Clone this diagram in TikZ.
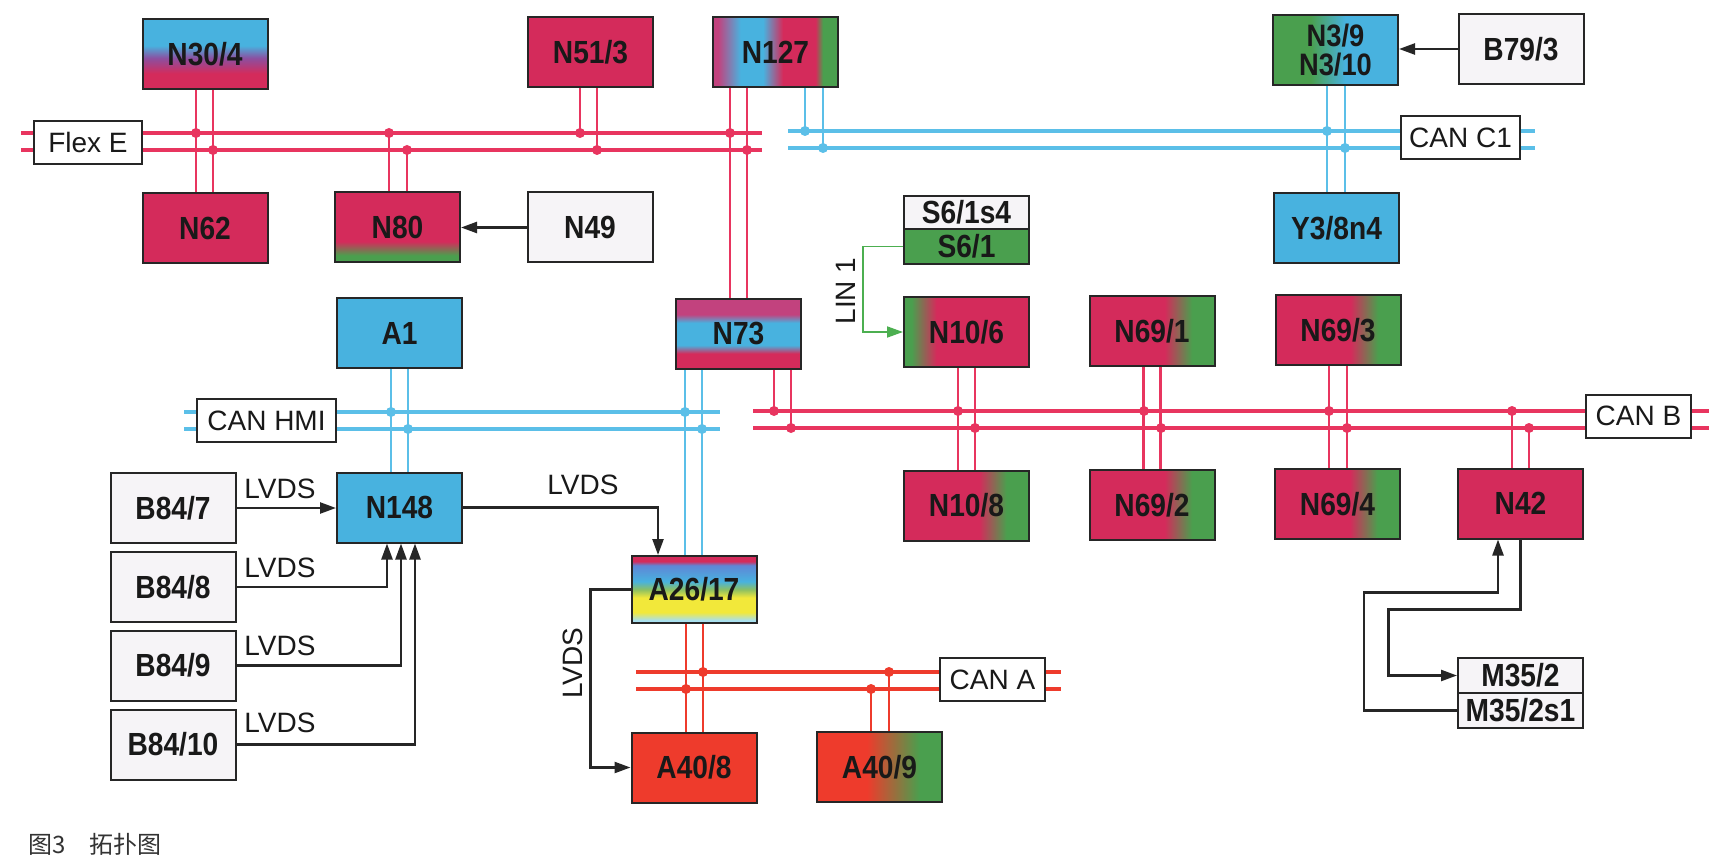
\documentclass[tikz,border=0pt]{standalone}
\usepackage{fontspec}
\setmainfont{Liberation Sans}
\newfontfamily\boxfont[FakeStretch=0.88]{Liberation Sans}
\newfontfamily\cjkfont{Noto Sans CJK SC}
\usepackage{xcolor}
\usepackage{tikz}
\usetikzlibrary{arrows.meta}
\definecolor{crim}{HTML}{D42B5B}
\definecolor{crimpurple}{HTML}{C2427E}
\definecolor{ecupurple}{HTML}{8C4FA0}
\definecolor{flexred}{HTML}{E8355F}
\definecolor{canblue}{HTML}{5BBFE8}
\definecolor{boxblue}{HTML}{48B2DF}
\definecolor{periwinkle}{HTML}{5F86D6}
\definecolor{ecugreen}{HTML}{4A9F4E}
\definecolor{leaf}{HTML}{8CC063}
\definecolor{lemon}{HTML}{F2E83A}
\definecolor{lightcyan}{HTML}{A8E0F0}
\definecolor{canared}{HTML}{EE3B2C}
\definecolor{linkgreen}{HTML}{4CAF50}
\definecolor{paper}{HTML}{F6F4F7}

% colour runs of the control units
\pgfdeclareverticalshading{n304shade}{100bp}{color(0bp)=(crim); color(25bp)=(crim); color(36bp)=(crim); color(47bp)=(ecupurple); color(56bp)=(boxblue); color(100bp)=(boxblue)}
\pgfdeclarehorizontalshading{n127shade}{100bp}{color(0bp)=(crimpurple); color(27bp)=(crimpurple); color(36bp)=(boxblue); color(45bp)=(boxblue); color(53bp)=(crim); color(66bp)=(crim); color(69bp)=(ecugreen); color(100bp)=(ecugreen)}
\pgfdeclareverticalshading{n80shade}{100bp}{color(0bp)=(ecugreen); color(30bp)=(ecugreen); color(40bp)=(crim); color(100bp)=(crim)}
\pgfdeclarehorizontalshading{n39shade}{100bp}{color(0bp)=(ecugreen); color(40bp)=(ecugreen); color(54bp)=(boxblue); color(100bp)=(boxblue)}
\pgfdeclareverticalshading{n73shade}{100bp}{color(0bp)=(crim); color(36bp)=(crim); color(42bp)=(boxblue); color(58bp)=(boxblue); color(64bp)=(crimpurple); color(100bp)=(crimpurple)}
\pgfdeclareverticalshading{a2617shade}{100bp}{color(0bp)=(lightcyan); color(27bp)=(lightcyan); color(33bp)=(lemon); color(44bp)=(lemon); color(50bp)=(leaf); color(56bp)=(boxblue); color(68bp)=(periwinkle); color(71bp)=(crim); color(100bp)=(crim)}
\pgfdeclarehorizontalshading{n106shade}{100bp}{color(0bp)=(ecugreen); color(28bp)=(ecugreen); color(38bp)=(crim); color(100bp)=(crim)}
\pgfdeclarehorizontalshading{n69shade}{100bp}{color(0bp)=(crim); color(55bp)=(crim); color(66bp)=(ecugreen); color(100bp)=(ecugreen)}
\pgfdeclarehorizontalshading{a409shade}{100bp}{color(0bp)=(canared); color(45bp)=(canared); color(66bp)=(ecugreen); color(100bp)=(ecugreen)}

\tikzset{
  ecu/.style={draw=black!85, line width=1pt, minimum width=62.5pt, minimum height=35pt,
    inner sep=0pt, text=black!90, font=\boxfont\bfseries\fontsize{16pt}{18pt}\selectfont},
  busname/.style={draw=black!85, fill=white, line width=1pt, minimum height=21.5pt,
    inner sep=0pt, text=black!90, font=\fontsize{14pt}{16pt}\selectfont},
  sigtext/.style={inner sep=0pt, text=black!90, font=\fontsize{14pt}{16pt}\selectfont},
  bus/.style={line width=1.75pt},
  stub/.style={line width=1.3pt},
  sig/.style={draw=black!85, line width=1.2pt, -{Triangle[length=8pt,width=5.5pt]}},
  lin/.style={draw=linkgreen, line width=0.9pt, -{Triangle[length=8pt,width=5.5pt]}}
}

\begin{document}
\begin{tikzpicture}[x=0.5pt,y=-0.5pt]
\fill[white] (0,0) rectangle (1724,861);
\useasboundingbox (0,0) rectangle (1724,861);

% bus ends
\foreach \bus/\xa/\xb/\ya in {fx/21/762/133, cc/788/1535/131, hmi/184/720/412, cb/753/1709/411, ca/636/1061/672} {
  \coordinate (\bus W1) at (\xa,\ya);
  \coordinate (\bus E1) at (\xb,\ya);
  \coordinate (\bus W2) at (\xa,\ya+17);
  \coordinate (\bus E2) at (\xb,\ya+17);
}
\draw[bus,flexred] (fxW1) -- (fxE1) (fxW2) -- (fxE2);
\draw[bus,canblue] (ccW1) -- (ccE1) (ccW2) -- (ccE2);
\draw[bus,canblue] (hmiW1) -- (hmiE1) (hmiW2) -- (hmiE2);
\draw[bus,flexred] (cbW1) -- (cbE1) (cbW2) -- (cbE2);
\draw[bus,canared] (caW1) -- (caE1) (caW2) -- (caE2);

\node[busname, minimum width=54pt] (flex) at (88,142.5) {Flex E};
\node[busname, minimum width=59.5pt] (canc1) at (1460.5,138) {CAN C1};
\node[busname, minimum width=69.5pt] (canhmi) at (266.5,420.5) {CAN HMI};
\node[busname, minimum width=52.5pt] (canb) at (1638.5,416) {CAN B};
\node[busname, minimum width=52.5pt] (cana) at (992.5,679.5) {CAN A};

% control units
\node[ecu, shading=n304shade] (n304) at (205,54) {N30/4};
\node[ecu, fill=crim] (n513) at (590.5,52.5) {N51/3};
\node[ecu, shading=n127shade] (n127) at (775.5,52) {N127};
\node[ecu, shading=n39shade, align=center,
  font=\boxfont\bfseries\fontsize{15.5pt}{14.5pt}\selectfont] (n39) at (1335.5,50.5) {N3/9\\N3/10};
\node[ecu, fill=paper] (b793) at (1521,49) {B79/3};
\node[ecu, fill=crim] (n62) at (205,228) {N62};
\node[ecu, shading=n80shade] (n80) at (397.5,227.5) {N80};
\node[ecu, fill=paper] (n49) at (590,227.5) {N49};
\node[ecu, fill=boxblue] (y38) at (1336.5,228.5) {Y3/8n4};
\node[ecu, fill=paper, minimum height=16.5pt] (s61s4) at (966.5,212.5) {S6/1s4};
\node[ecu, fill=ecugreen, minimum height=17.5pt] (s61) at (966.5,246.5) {S6/1};
\node[ecu, fill=boxblue] (a1) at (399.5,333) {A1};
\node[ecu, shading=n73shade] (n73) at (738.5,334) {N73};
\node[ecu, shading=n106shade] (n106) at (966.5,332) {N10/6};
\node[ecu, shading=n69shade] (n691) at (1152,331) {N69/1};
\node[ecu, shading=n69shade] (n693) at (1338,330) {N69/3};
\node[ecu, fill=boxblue] (n148) at (399.5,507.5) {N148};
\node[ecu, fill=paper] (b847) at (173,508) {B84/7};
\node[ecu, shading=n69shade] (n108) at (966.5,505.5) {N10/8};
\node[ecu, shading=n69shade] (n692) at (1152,505) {N69/2};
\node[ecu, shading=n69shade] (n694) at (1337.5,504) {N69/4};
\node[ecu, fill=crim] (n42) at (1520.5,503.5) {N42};
\node[ecu, fill=paper] (b848) at (173,587) {B84/8};
\node[ecu, fill=paper] (b849) at (173,665.5) {B84/9};
\node[ecu, fill=paper] (b8410) at (173,744.5) {B84/10};
\node[ecu, shading=a2617shade, minimum height=33.5pt] (a2617) at (694,589.5) {A26/17};
\node[ecu, fill=canared] (a408) at (694,767.5) {A40/8};
\node[ecu, shading=a409shade] (a409) at (879.5,767) {A40/9};
\node[ecu, fill=paper, minimum height=17.5pt] (m352) at (1520.5,675.5) {M35/2};
\node[ecu, fill=paper, minimum height=17.5pt] (m352s1) at (1520.5,710.5) {M35/2s1};

% Flex E drops
\draw[stub,flexred] ([xshift=-4.5pt]n304.south) -- ([xshift=-4.5pt]n62.north);
\draw[stub,flexred] ([xshift=4pt]n304.south) -- ([xshift=4pt]n62.north);
\draw[stub,flexred] ([xshift=-4.25pt]n80.north) -- ([xshift=-4.25pt]n80.north |- fxW1);
\draw[stub,flexred] ([xshift=4.75pt]n80.north) -- ([xshift=4.75pt]n80.north |- fxW2);
\draw[stub,flexred] ([xshift=-5.25pt]n513.south) -- ([xshift=-5.25pt]n513.south |- fxW1);
\draw[stub,flexred] ([xshift=3.25pt]n513.south) -- ([xshift=3.25pt]n513.south |- fxW2);
\draw[stub,flexred] ([xshift=-4.25pt]n73.north) -- ([xshift=-4.25pt]n73.north |- n127.south);
\draw[stub,flexred] ([xshift=4.25pt]n73.north) -- ([xshift=4.25pt]n73.north |- n127.south);

% CAN C1 and CAN HMI drops
\draw[stub,canblue] ([xshift=14.75pt]n127.south) -- ([xshift=14.75pt]n127.south |- ccW1);
\draw[stub,canblue] ([xshift=23.75pt]n127.south) -- ([xshift=23.75pt]n127.south |- ccW2);
\draw[stub,canblue] ([xshift=-4.25pt]n39.south) -- ([xshift=-4.25pt]n39.south |- y38.north);
\draw[stub,canblue] ([xshift=4.75pt]n39.south) -- ([xshift=4.75pt]n39.south |- y38.north);
\draw[stub,canblue] ([xshift=-4.25pt]a1.south) -- ([xshift=-4.25pt]n148.north);
\draw[stub,canblue] ([xshift=4.25pt]a1.south) -- ([xshift=4.25pt]n148.north);
\draw[stub,canblue] ([xshift=-4.5pt]a2617.north) -- ([xshift=-4.5pt]a2617.north |- n73.south);
\draw[stub,canblue] ([xshift=4pt]a2617.north) -- ([xshift=4pt]a2617.north |- n73.south);

% CAN B drops
\draw[stub,flexred] ([xshift=17.75pt]n73.south) -- ([xshift=17.75pt]n73.south |- cbW1);
\draw[stub,flexred] ([xshift=26.25pt]n73.south) -- ([xshift=26.25pt]n73.south |- cbW2);
\draw[stub,flexred] ([xshift=-4.25pt]n106.south) -- ([xshift=-4.25pt]n108.north);
\draw[stub,flexred] ([xshift=4.25pt]n106.south) -- ([xshift=4.25pt]n108.north);
\draw[stub,flexred] ([xshift=-4.25pt]n691.south) -- ([xshift=-4.25pt]n692.north);
\draw[stub,flexred] ([xshift=4.25pt]n691.south) -- ([xshift=4.25pt]n692.north);
\draw[stub,flexred] ([xshift=-4.5pt]n693.south) -- ([xshift=-4.5pt]n693.south |- n694.north);
\draw[stub,flexred] ([xshift=4.5pt]n693.south) -- ([xshift=4.5pt]n693.south |- n694.north);
\draw[stub,flexred] ([xshift=-4.25pt]n42.north) -- ([xshift=-4.25pt]n42.north |- cbW1);
\draw[stub,flexred] ([xshift=4.25pt]n42.north) -- ([xshift=4.25pt]n42.north |- cbW2);

% CAN A drops
\draw[stub,canared] ([xshift=-4pt]a2617.south) -- ([xshift=-4pt]a2617.south |- a408.north);
\draw[stub,canared] ([xshift=4.5pt]a2617.south) -- ([xshift=4.5pt]a2617.south |- a408.north);
\draw[stub,canared] ([xshift=-4.25pt]a409.north) -- ([xshift=-4.25pt]a409.north |- caW2);
\draw[stub,canared] ([xshift=4.75pt]a409.north) -- ([xshift=4.75pt]a409.north |- caW1);

% junction dots
\foreach \p in {(196,133),(213,150),(389,133),(407,150),(580,133),(597,150),(730,133),(747,150),
  (774,411),(791,428),(958,411),(975,428),(1144,411),(1161,428),(1329,411),(1347,428),(1512,411),(1529,428)}
  \fill[flexred] \p circle[radius=2.5pt];
\foreach \p in {(805,131),(823,148),(1327,131),(1345,148),(391,412),(408,429),(685,412),(702,429)}
  \fill[canblue] \p circle[radius=2.5pt];
\foreach \p in {(703,672),(686,689),(889,672),(871,689)}
  \fill[canared] \p circle[radius=2.5pt];

% signal lines
\draw[sig] (n49.west) -- (n49.west -| n80.east);
\draw[sig] (b793.west) -- (b793.west -| n39.east);
\draw[sig] (b847.east) -- (b847.east -| n148.west);
\draw[sig] (n148.east) -| ([xshift=-18pt]a2617.north);
\draw[sig] (b848.east) -| ([xshift=-6.25pt]n148.south);
\draw[sig] (b849.east) -| ([xshift=0.75pt]n148.south);
\draw[sig] (b8410.east) -| ([xshift=7.75pt]n148.south);
\draw[sig] (a2617.west) -- ++(-40,0) |- (a408.west);
\draw[sig] (n42.south) -- ++(0,70) -- ++(-132,0) |- (m352.west);
\draw[sig] (m352s1.west) -- ++(-93,0) -- ++(0,-118) -| ([xshift=-11.25pt]n42.south);
\draw[lin] (s61.west) -- ++(-40,0) |- (n106.west);

\node[sigtext] (lvds7) at (280,489) {LVDS};
\node[sigtext] (lvds8) at (280,568) {LVDS};
\node[sigtext] (lvds9) at (280,646) {LVDS};
\node[sigtext] (lvds10) at (280,723) {LVDS};
\node[sigtext] (lvdsa) at (583,485) {LVDS};
\node[sigtext, rotate=90] (lvdsb) at (573,663) {LVDS};
\node[sigtext, rotate=90] (lin1) at (846,291) {LIN 1};

\node[anchor=west, inner sep=0pt, text=black!80, font=\cjkfont\fontsize{12pt}{14pt}\selectfont] (cap) at (28,844) {图3\quad 拓扑图};
\end{tikzpicture}
\end{document}
